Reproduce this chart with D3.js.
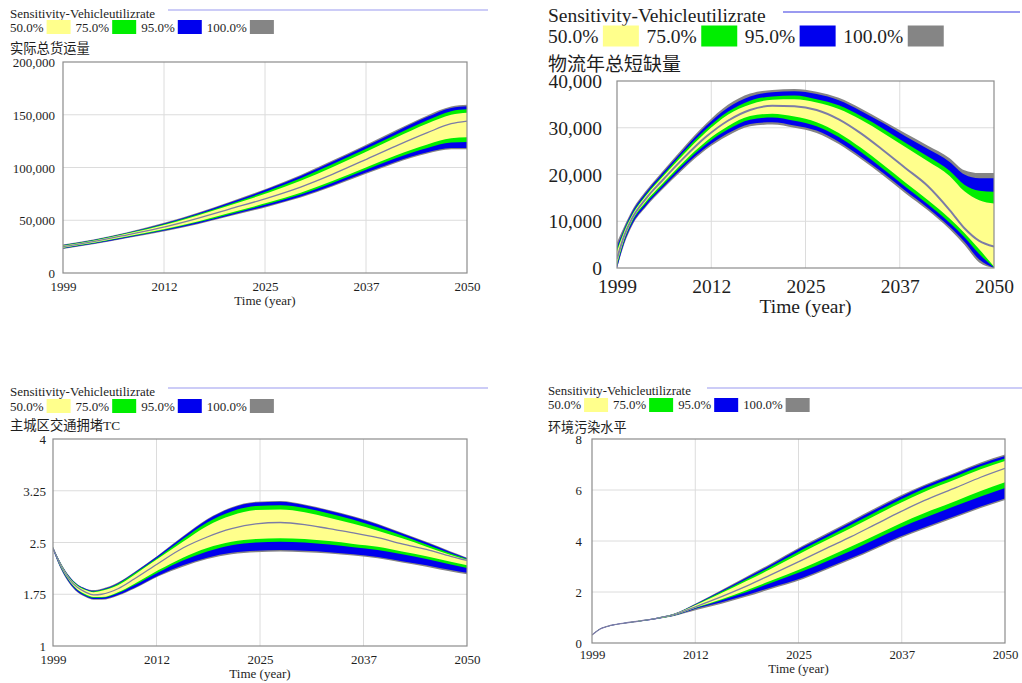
<!DOCTYPE html>
<html>
<head>
<meta charset="utf-8">
<script src="https://cdn.jsdelivr.net/npm/d3@7"></script>
<style>
  html, body { margin: 0; padding: 0; background: #ffffff; }
  svg { display: block; }
  text { font-family: "Liberation Serif", "Times New Roman", "Noto Sans CJK SC", serif; fill: #1e1e1e; }
</style>
</head>
<body>
<svg id="chart" width="1022" height="683"></svg>
<script>
// ---------- shared labels ----------
const legendTitle = "Sensitivity-Vehicleutilizrate";
const legendLabels = ["50.0%", "75.0%", "95.0%", "100.0%"];
const xTickYears = [1999, 2011.75, 2024.5, 2037.25, 2050];
const xTickLabels = ["1999", "2012", "2025", "2037", "2050"];
const axisTitle = "Time (year)";

// ---------- 实际总货运量 (values in thousands) ----------
const freightYears  = [1999, 2003, 2007, 2012, 2016, 2020, 2025, 2029, 2033, 2037, 2041, 2045, 2048, 2050];
const freight100Hi  = [27.0, 32.0, 38.5, 48.1, 57.2, 67.3, 80.9, 93.0, 106.6, 120.7, 135.3, 149.4, 157.8, 159.4];
const freight95Hi   = [26.5, 31.5, 38.0, 47.5, 56.5, 66.5, 80.0, 92.0, 105.5, 119.5, 134.0, 148.0, 156.5, 158.0];
const freight75Hi   = [26.2, 31.2, 37.6, 46.8, 55.5, 65.2, 78.2, 89.8, 103.0, 116.8, 131.1, 144.9, 153.4, 155.1];
const freight50Hi   = [25.9, 30.9, 37.1, 46.0, 54.5, 63.9, 76.3, 87.5, 100.3, 114.0, 128.1, 141.6, 150.0, 152.0];
const freightMid    = [25.0, 30.0, 36.0, 44.0, 51.8, 60.5, 71.5, 81.5, 93.5, 106.8, 120.3, 133.0, 141.5, 144.0];
const freight50Lo   = [24.0, 28.8, 34.5, 41.9, 48.9, 56.9, 67.0, 76.1, 87.2, 99.4, 111.4, 121.9, 127.7, 128.7];
const freight75Lo   = [23.7, 28.4, 34.1, 41.3, 48.1, 55.8, 65.7, 74.5, 85.3, 97.2, 108.8, 118.6, 123.6, 124.1];
const freight95Lo   = [23.3, 28.0, 33.5, 40.5, 47.0, 54.5, 64.0, 72.5, 83.0, 94.5, 105.5, 114.5, 118.5, 118.5];
const freight100Lo  = [22.8, 27.5, 33.0, 39.9, 46.3, 53.7, 63.1, 71.5, 81.9, 93.3, 104.3, 113.3, 117.3, 117.3];
const freightTicks  = [0, 50, 100, 150, 200];

// ---------- 物流年总短缺量 (values in thousands) ----------
const shortageYears = [1999, 2000, 2001, 2003, 2005, 2008, 2011, 2014, 2017, 2020, 2023, 2026, 2029, 2032, 2035, 2038, 2041, 2044, 2046, 2048, 2050];
const shortage100Hi = [5.5, 9.0, 12.2, 16.7, 20.4, 25.8, 30.8, 34.9, 37.3, 38.1, 38.3, 37.7, 36.4, 34.1, 31.5, 28.8, 26.2, 23.5, 20.9, 20.3, 20.3];
const shortage95Hi  = [4.5, 8.5, 11.8, 16.3, 20.0, 25.3, 30.3, 34.3, 36.7, 37.6, 37.8, 37.2, 35.9, 33.6, 31.0, 28.2, 25.5, 22.7, 20.0, 19.2, 19.2];
const shortage75Hi  = [4.0, 8.2, 11.4, 15.9, 19.5, 24.8, 29.6, 33.4, 35.8, 36.7, 36.9, 36.1, 34.8, 32.5, 29.8, 26.8, 23.9, 20.8, 17.8, 16.5, 16.3];
const shortage50Hi  = [3.5, 7.8, 11.1, 15.6, 19.2, 24.3, 29.0, 32.8, 35.0, 36.0, 36.1, 35.4, 34.0, 31.7, 28.9, 25.9, 22.9, 19.7, 16.4, 14.5, 13.8];
const shortageMid   = [2.0, 7.0, 10.5, 15.0, 18.5, 23.5, 28.0, 31.5, 33.8, 34.7, 34.6, 33.8, 31.8, 28.8, 25.2, 21.4, 17.6, 12.4, 8.5, 5.8, 4.6];
const shortage50Lo  = [1.0, 6.3, 10.0, 14.4, 17.8, 22.7, 27.0, 30.3, 32.5, 33.0, 32.4, 31.2, 28.9, 25.7, 22.1, 18.3, 14.6, 10.6, 7.5, 4.0, 0.3];
const shortage75Lo  = [0.5, 6.0, 9.7, 14.0, 17.4, 22.2, 26.4, 29.6, 31.7, 32.2, 31.5, 30.3, 28.0, 24.8, 21.2, 17.4, 13.7, 9.7, 6.6, 3.0, 0.1];
const shortage95Lo  = [0.0, 5.5, 9.2, 13.5, 16.9, 21.6, 25.7, 28.8, 30.8, 31.2, 30.5, 29.4, 27.0, 23.8, 20.3, 16.5, 12.9, 8.8, 5.6, 1.8, 0.0];
const shortage100Lo = [0.0, 5.2, 8.9, 13.2, 16.6, 21.2, 25.3, 28.3, 30.3, 30.7, 30.0, 28.9, 26.5, 23.3, 19.8, 16.0, 12.4, 8.3, 5.0, 1.2, 0.0];
const shortageTicks = [0, 10, 20, 30, 40];

// ---------- 主城区交通拥堵TC ----------
const congestionYears = [1999, 2000, 2001, 2002, 2003, 2004, 2005, 2007, 2009, 2012, 2015, 2018, 2021, 2024, 2027, 2030, 2033, 2036, 2039, 2042, 2045, 2048, 2050];
const congestion100Hi = [2.435, 2.195, 2.015, 1.895, 1.835, 1.81, 1.83, 1.92, 2.07, 2.32, 2.59, 2.84, 3.01, 3.09, 3.10, 3.05, 2.97, 2.88, 2.77, 2.64, 2.51, 2.37, 2.28];
const congestion95Hi  = [2.43, 2.19, 2.01, 1.89, 1.83, 1.80, 1.82, 1.91, 2.06, 2.31, 2.58, 2.83, 3.00, 3.08, 3.09, 3.04, 2.96, 2.87, 2.76, 2.63, 2.50, 2.36, 2.27];
const congestion75Hi  = [2.43, 2.185, 2.00, 1.885, 1.82, 1.79, 1.81, 1.90, 2.05, 2.29, 2.55, 2.79, 2.95, 3.03, 3.04, 3.00, 2.92, 2.83, 2.72, 2.60, 2.47, 2.34, 2.26];
const congestion50Hi  = [2.425, 2.18, 1.99, 1.875, 1.81, 1.78, 1.80, 1.88, 2.03, 2.27, 2.51, 2.74, 2.89, 2.97, 2.98, 2.94, 2.86, 2.77, 2.67, 2.56, 2.44, 2.32, 2.25];
const congestionMid   = [2.42, 2.16, 1.97, 1.85, 1.78, 1.74, 1.75, 1.83, 1.97, 2.20, 2.42, 2.58, 2.70, 2.77, 2.79, 2.76, 2.70, 2.64, 2.57, 2.48, 2.40, 2.30, 2.24];
const congestion50Lo  = [2.415, 2.14, 1.95, 1.82, 1.75, 1.71, 1.71, 1.78, 1.90, 2.10, 2.28, 2.42, 2.51, 2.55, 2.56, 2.55, 2.52, 2.48, 2.44, 2.37, 2.30, 2.22, 2.17];
const congestion75Lo  = [2.41, 2.13, 1.94, 1.81, 1.735, 1.70, 1.70, 1.765, 1.88, 2.07, 2.24, 2.37, 2.46, 2.50, 2.51, 2.50, 2.47, 2.43, 2.39, 2.33, 2.26, 2.18, 2.13];
const congestion95Lo  = [2.40, 2.12, 1.92, 1.79, 1.72, 1.68, 1.68, 1.74, 1.84, 2.02, 2.17, 2.28, 2.35, 2.38, 2.39, 2.38, 2.36, 2.33, 2.29, 2.23, 2.17, 2.10, 2.06];
const congestion100Lo = [2.395, 2.11, 1.91, 1.78, 1.71, 1.67, 1.67, 1.73, 1.83, 2.01, 2.15, 2.26, 2.33, 2.36, 2.37, 2.36, 2.34, 2.31, 2.27, 2.21, 2.15, 2.08, 2.04];
const congestionTicks = [1, 1.75, 2.5, 3.25, 4];

// ---------- 环境污染水平 ----------
const pollutionYears = [1999, 2000, 2001, 2003, 2005, 2007, 2009, 2012, 2015, 2018, 2021, 2025, 2028, 2031, 2034, 2037, 2040, 2044, 2047, 2050];
const pollution100Hi = [0.32, 0.565, 0.675, 0.795, 0.89, 0.995, 1.135, 1.58, 2.08, 2.59, 3.10, 3.81, 4.30, 4.79, 5.29, 5.77, 6.20, 6.70, 7.08, 7.39];
const pollution95Hi  = [0.31, 0.56, 0.67, 0.79, 0.885, 0.99, 1.13, 1.56, 2.05, 2.55, 3.05, 3.76, 4.25, 4.74, 5.24, 5.72, 6.15, 6.65, 7.02, 7.33];
const pollution75Hi  = [0.31, 0.555, 0.668, 0.788, 0.882, 0.985, 1.125, 1.54, 2.01, 2.49, 2.98, 3.67, 4.15, 4.64, 5.13, 5.61, 6.05, 6.55, 6.93, 7.24];
const pollution50Hi  = [0.31, 0.553, 0.665, 0.785, 0.878, 0.98, 1.12, 1.52, 1.96, 2.42, 2.89, 3.56, 4.04, 4.51, 5.00, 5.48, 5.92, 6.43, 6.81, 7.14];
const pollutionMid   = [0.31, 0.55, 0.66, 0.78, 0.87, 0.97, 1.10, 1.45, 1.82, 2.22, 2.66, 3.26, 3.72, 4.17, 4.65, 5.13, 5.58, 6.10, 6.50, 6.85];
const pollution50Lo  = [0.31, 0.547, 0.655, 0.775, 0.862, 0.96, 1.08, 1.41, 1.72, 2.06, 2.43, 2.93, 3.35, 3.78, 4.23, 4.68, 5.09, 5.58, 5.96, 6.30];
const pollution75Lo  = [0.31, 0.545, 0.652, 0.77, 0.857, 0.953, 1.07, 1.39, 1.68, 1.99, 2.34, 2.81, 3.21, 3.62, 4.07, 4.51, 4.90, 5.39, 5.75, 6.08];
const pollution95Lo  = [0.31, 0.54, 0.648, 0.765, 0.85, 0.945, 1.06, 1.36, 1.60, 1.87, 2.17, 2.56, 2.94, 3.33, 3.75, 4.17, 4.53, 5.00, 5.35, 5.67];
const pollution100Lo = [0.30, 0.535, 0.644, 0.76, 0.845, 0.94, 1.05, 1.30, 1.54, 1.81, 2.11, 2.50, 2.88, 3.27, 3.69, 4.11, 4.47, 4.94, 5.29, 5.61];
const pollutionTicks = [0, 2, 4, 6, 8];

// ---------- styles ----------
const bandColors  = { p100: "#858585", p95: "#0000ee", p75: "#00ee00", p50: "#ffff8c" };
const swatchColors = ["#ffff8c", "#00ee00", "#0000ee", "#858585"];
const midColor = "#7c7ca6";
const legendLineColor = "#9a9af0";

const fmtThousands = d => d3.format(",")(d * 1000);
const fmtPlain = d => String(d);

const panels = [
  {
    name: "实际总货运量",
    years: freightYears, mid: freightMid, yTicks: freightTicks, fmt: fmtThousands,
    bands: [[freight100Lo, freight100Hi], [freight95Lo, freight95Hi], [freight75Lo, freight75Hi], [freight50Lo, freight50Hi]],
    box: { x0: 63, x1: 467, y0: 62, y1: 273 }, tx: 10, fs: 13, k: 1,
    titleCy: 13, line: [168, 488, 10], rowCy: 27, nameCy: 48, yLabelRight: 55, xLabelCy: 286, timeCy: 300
  },
  {
    name: "物流年总短缺量",
    years: shortageYears, mid: shortageMid, yTicks: shortageTicks, fmt: fmtThousands,
    bands: [[shortage100Lo, shortage100Hi], [shortage95Lo, shortage95Hi], [shortage75Lo, shortage75Hi], [shortage50Lo, shortage50Hi]],
    box: { x0: 617, x1: 994, y0: 81, y1: 268 }, tx: 548, fs: 19.5, k: 1.5,
    titleCy: 15, line: [783, 1020, 12], rowCy: 36, nameCy: 64, nameFs: 19, yLabelRight: 602, xLabelCy: 286, timeCy: 306
  },
  {
    name: "主城区交通拥堵TC",
    years: congestionYears, mid: congestionMid, yTicks: congestionTicks, fmt: fmtPlain,
    bands: [[congestion100Lo, congestion100Hi], [congestion95Lo, congestion95Hi], [congestion75Lo, congestion75Hi], [congestion50Lo, congestion50Hi]],
    box: { x0: 53, x1: 467, y0: 439, y1: 646 }, tx: 10, fs: 13, k: 1,
    titleCy: 391, line: [168, 488, 388], rowCy: 406, nameCy: 425, yLabelRight: 46, xLabelCy: 659, timeCy: 673
  },
  {
    name: "环境污染水平",
    years: pollutionYears, mid: pollutionMid, yTicks: pollutionTicks, fmt: fmtPlain,
    bands: [[pollution100Lo, pollution100Hi], [pollution95Lo, pollution95Hi], [pollution75Lo, pollution75Hi], [pollution50Lo, pollution50Hi]],
    box: { x0: 592, x1: 1005, y0: 439, y1: 643 }, tx: 548, fs: 12.8, k: 1,
    titleCy: 391, line: [707, 1022, 388], rowCy: 405, nameCy: 427, yLabelRight: 582, xLabelCy: 655, timeCy: 669
  }
];

const svg = d3.select("#chart");
const bandOrder = ["p100", "p95", "p75", "p50"];

panels.forEach((p, pi) => {
  const g = svg.append("g").attr("class", "panel");
  const b = p.box;
  const x = d3.scaleLinear().domain([1999, 2050]).range([b.x0, b.x1]);
  const y = d3.scaleLinear().domain([p.yTicks[0], p.yTicks[p.yTicks.length - 1]]).range([b.y1, b.y0]);

  // legend header
  g.append("text").attr("x", p.tx).attr("y", p.titleCy).attr("dominant-baseline", "central")
    .style("font-size", p.fs + "px").text(legendTitle);
  g.append("line").attr("x1", p.line[0]).attr("x2", p.line[1]).attr("y1", p.line[2]).attr("y2", p.line[2])
    .attr("stroke", legendLineColor).attr("stroke-width", 1.2 * p.k);

  let lx = p.tx;
  legendLabels.forEach((lab, i) => {
    const t = g.append("text").attr("x", lx).attr("y", p.rowCy).attr("dominant-baseline", "central")
      .style("font-size", p.fs + "px").text(lab);
    lx += t.node().getComputedTextLength() + 3 * p.k;
    const sw = 24 * p.k, sh = 14 * p.k;
    g.append("rect").attr("x", lx).attr("y", p.rowCy - sh / 2).attr("width", sw).attr("height", sh)
      .attr("fill", swatchColors[i]);
    lx += sw + 5 * p.k;
  });

  g.append("text").attr("x", p.tx).attr("y", p.nameCy).attr("dominant-baseline", "central")
    .style("font-size", (p.nameFs || p.fs + 0.3) + "px").text(p.name);

  // grid
  const grid = g.append("g");
  grid.selectAll("line.v").data(xTickYears.slice(1, -1)).join("line")
    .attr("x1", d => x(d)).attr("x2", d => x(d)).attr("y1", b.y0).attr("y2", b.y1)
    .attr("stroke", "#dcdcdc").attr("stroke-width", 1);
  grid.selectAll("line.h").data(p.yTicks.slice(1, -1)).join("line")
    .attr("x1", b.x0).attr("x2", b.x1).attr("y1", d => y(d)).attr("y2", d => y(d))
    .attr("stroke", "#dcdcdc").attr("stroke-width", 1);

  // clip for series
  const clipId = "clip" + pi;
  svg.append("clipPath").attr("id", clipId).append("rect")
    .attr("x", b.x0).attr("y", b.y0).attr("width", b.x1 - b.x0).attr("height", b.y1 - b.y0);
  const series = g.append("g").attr("clip-path", `url(#${clipId})`);

  const idx = d3.range(p.years.length);
  p.bands.forEach((pair, bi) => {
    const [lo, hi] = pair;
    const area = d3.area()
      .x(i => x(p.years[i]))
      .y0(i => y(lo[i]))
      .y1(i => y(hi[i]))
      .curve(d3.curveMonotoneX);
    series.append("path").datum(idx).attr("d", area).attr("fill", bandColors[bandOrder[bi]]);
  });
  const line = d3.line().x(i => x(p.years[i])).y(i => y(p.mid[i])).curve(d3.curveMonotoneX);
  series.append("path").datum(idx).attr("d", line).attr("fill", "none")
    .attr("stroke", midColor).attr("stroke-width", 1.3 * p.k);

  // frame
  g.append("rect").attr("x", b.x0).attr("y", b.y0).attr("width", b.x1 - b.x0).attr("height", b.y1 - b.y0)
    .attr("fill", "none").attr("stroke", "#8c8c8c").attr("stroke-width", 1.2);

  // axes (labels only)
  const yAxis = d3.axisLeft(y).tickValues(p.yTicks).tickFormat(p.fmt).tickSize(0).tickPadding(0);
  const ya = g.append("g").attr("transform", `translate(${p.yLabelRight},0)`).call(yAxis);
  ya.select(".domain").remove();
  ya.selectAll("text").style("font-size", p.fs + "px").attr("fill", "#1e1e1e")
    .attr("dy", null).attr("dominant-baseline", "central");

  const xAxis = d3.axisBottom(x).tickValues(xTickYears).tickFormat((d, i) => xTickLabels[i]).tickSize(0).tickPadding(0);
  const xa = g.append("g").attr("transform", `translate(0,${p.xLabelCy})`).call(xAxis);
  xa.select(".domain").remove();
  xa.selectAll("text").style("font-size", p.fs + "px").attr("fill", "#1e1e1e")
    .attr("y", 0).attr("dy", null).attr("dominant-baseline", "central");

  g.append("text").attr("x", (b.x0 + b.x1) / 2).attr("y", p.timeCy).attr("text-anchor", "middle")
    .attr("dominant-baseline", "central").style("font-size", p.fs + "px").text(axisTitle);
});

// axis groups set their own font attributes; let the serif face from CSS apply
svg.selectAll("g").filter(function () { return this.getAttribute("font-family"); })
  .attr("font-family", null).attr("font-size", null);
</script>
</body>
</html>
